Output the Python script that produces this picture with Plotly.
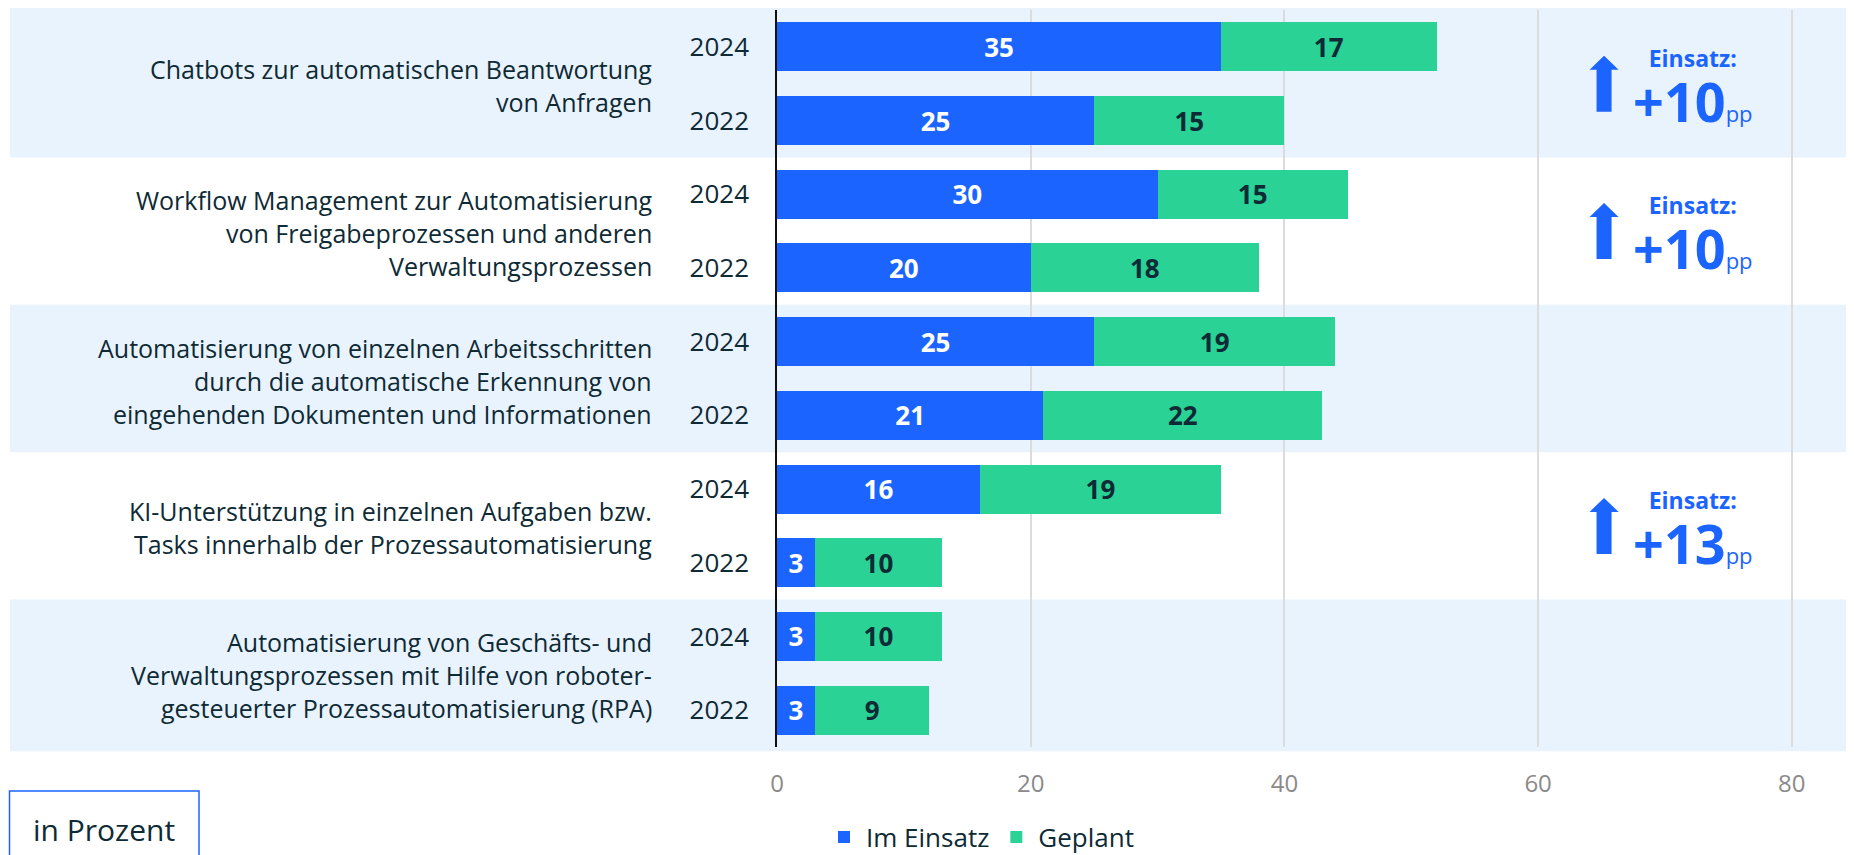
import plotly.graph_objects as go

# ---------------- data ----------------
categories = [
    "Chatbots zur automatischen Beantwortung<br>von Anfragen",
    "Workflow Management zur Automatisierung<br>von Freigabeprozessen und anderen<br>Verwaltungsprozessen",
    "Automatisierung von einzelnen Arbeitsschritten<br>durch die automatische Erkennung von<br>eingehenden Dokumenten und Informationen",
    "KI-Unterstützung in einzelnen Aufgaben bzw.<br>Tasks innerhalb der Prozessautomatisierung",
    "Automatisierung von Geschäfts- und<br>Verwaltungsprozessen mit Hilfe von roboter-<br>gesteuerter Prozessautomatisierung (RPA)",
]
years = ["2024", "2022"]
im_einsatz_2024 = [35, 30, 25, 16, 3]
geplant_2024 = [17, 15, 19, 19, 10]
im_einsatz_2022 = [25, 20, 21, 3, 3]
geplant_2022 = [15, 18, 22, 10, 9]
x_ticks = [0, 20, 40, 60, 80]
series_names = ["Im Einsatz", "Geplant"]
unit_label = "in Prozent"

# ---------------- styles ----------------
FONT = "Open Sans"
BLUE = "#1b64ff"
GREEN = "#2ad296"
BAND = "#e9f3fe"
DARK = "#0e2a35"
GRID = "#dcdcdc"
OFF = 8                      # page body margin
W, H = 1854 - OFF, 855 - OFF
ML, MR, MT, MB = 769, 0, 2, 108
LINE_PX = 33
PX_PER_UNIT = 253.7 / 20
BAND_EXT_TOP, BAND_EXT_BOTTOM = 2.6, 4.3

# positions: group g -> 2024 at 2g, 2022 at 2g+1
pos, einsatz, geplant, ticktext = [], [], [], []
for g in range(len(categories)):
    for yr, e, p in ((years[0], im_einsatz_2024[g], geplant_2024[g]),
                     (years[1], im_einsatz_2022[g], geplant_2022[g])):
        pos.append(2 * g + (0 if yr == years[0] else 1))
        einsatz.append(e)
        geplant.append(p)
        ticktext.append(yr)

fig = go.Figure()
fig.add_trace(go.Bar(
    y=pos, x=einsatz, orientation="h", name=series_names[0],
    marker=dict(color=BLUE, line=dict(width=0)),
    text=einsatz, texttemplate="<b>%{x}</b>", textposition="inside",
    insidetextanchor="middle",
    textfont=dict(family=FONT, size=26, color="white"),
    hoverinfo="skip",
))
fig.add_trace(go.Bar(
    y=pos, x=geplant, orientation="h", name=series_names[1],
    marker=dict(color=GREEN, line=dict(width=0)),
    text=geplant, texttemplate="<b>%{x}</b>", textposition="inside",
    insidetextanchor="middle",
    textfont=dict(family=FONT, size=26, color=DARK),
    hoverinfo="skip",
))

plot_w = W - ML - MR
plot_h = H - MT - MB
x_max = plot_w / PX_PER_UNIT
n_slots = 2 * len(categories)


def sx(px):  # screen x -> paper
    return (px - OFF - ML) / plot_w


def sy(py):  # screen y -> paper
    return (H - MB - (py - OFF)) / plot_h


shapes = []
annotations = []

# alternating bands (paper coords so the outer ones may extend slightly)
for g in range(len(categories)):
    if g % 2 == 0:
        y_top = 1 - (2 * g) / n_slots
        y_bot = 1 - (2 * g + 2) / n_slots
        if g == 0:
            y_top += BAND_EXT_TOP / plot_h
        if g == len(categories) - 1:
            y_bot -= BAND_EXT_BOTTOM / plot_h
        shapes.append(dict(type="rect", xref="paper", yref="paper",
                           x0=sx(10), x1=1, y0=y_bot, y1=y_top,
                           fillcolor=BAND, line=dict(width=0), layer="below"))

# category labels (one annotation per line for custom line spacing)
for g, cat in enumerate(categories):
    lines = cat.split("<br>")
    n = len(lines)
    for i, ln in enumerate(lines):
        annotations.append(dict(
            text=ln, xref="paper", yref="y",
            x=sx(654), y=2 * g + 0.5,
            yshift=-(i - (n - 1) / 2) * LINE_PX - 2,
            xanchor="right", yanchor="middle", showarrow=False,
            font=dict(family=FONT, size=25, color=DARK), align="right"))

# change annotations
for g in range(len(categories)):
    delta = im_einsatz_2024[g] - im_einsatz_2022[g]
    if delta >= 10:
        yc = 2 * g + 0.5
        shapes.append(dict(
            type="path", xref="x", yref="y",
            xsizemode="pixel", ysizemode="pixel",
            xanchor=65.2, yanchor=yc,
            path="M-7.5,-28 L7.5,-28 L7.5,14 L14.5,14 L0,28 L-14.5,14 L-7.5,14 Z",
            fillcolor=BLUE, line=dict(width=0), layer="above"))
        txt = ("<span style='font-size:23px'><b>Einsatz:</b></span><br>"
               f"<span style='font-size:54px'><b>+{delta}</b></span>"
               "<span style='font-size:22px'>pp</span>")
        annotations.append(dict(
            text=txt, xref="x", yref="y", x=72.2, y=yc,
            yshift=-6, showarrow=False, xanchor="center",
            yanchor="middle", align="center",
            font=dict(family=FONT, size=42, color=BLUE)))

# "in Prozent" box
shapes.append(dict(type="rect", xref="paper", yref="paper",
                   x0=sx(9.5), x1=sx(199),
                   y0=sy(880), y1=sy(791),
                   line=dict(color=BLUE, width=1.5), fillcolor="rgba(0,0,0,0)"))
annotations.append(dict(text=unit_label, xref="paper", yref="paper",
                        x=sx(104), y=sy(829),
                        xanchor="center", yanchor="middle", showarrow=False,
                        font=dict(family=FONT, size=30, color=DARK)))

fig.update_layout(
    width=W, height=H,
    margin=dict(l=ML, r=MR, t=MT, b=MB, pad=0, autoexpand=False),
    barmode="stack", bargap=0.336,
    plot_bgcolor="rgba(0,0,0,0)", paper_bgcolor="white",
    font=dict(family=FONT, color=DARK),
    uniformtext=dict(minsize=26, mode="show"),
    xaxis=dict(range=[0, x_max], tickvals=x_ticks, showgrid=True,
               gridcolor=GRID, gridwidth=1.5, zeroline=False,
               showline=False, ticks="", ticklabelstandoff=20,
               tickfont=dict(family=FONT, size=24, color="#8a8a8a"),
               fixedrange=True),
    yaxis=dict(range=[n_slots - 0.5, -0.5], tickvals=pos,
               ticktext=ticktext, showgrid=False, zeroline=False,
               showline=True, linecolor="#111111", linewidth=1.5,
               ticks="", ticklabelstandoff=21,
               tickfont=dict(family=FONT, size=26, color=DARK),
               fixedrange=True),
    showlegend=True,
    legend=dict(orientation="h", x=sx(822), xanchor="left",
                y=sy(837), yanchor="middle", itemwidth=34,
                font=dict(family=FONT, size=26, color=DARK),
                bgcolor="rgba(0,0,0,0)", traceorder="normal",
                itemclick=False, itemdoubleclick=False),
    shapes=shapes, annotations=annotations,
)

fig.write_html("out.html", config={"displayModeBar": False})
